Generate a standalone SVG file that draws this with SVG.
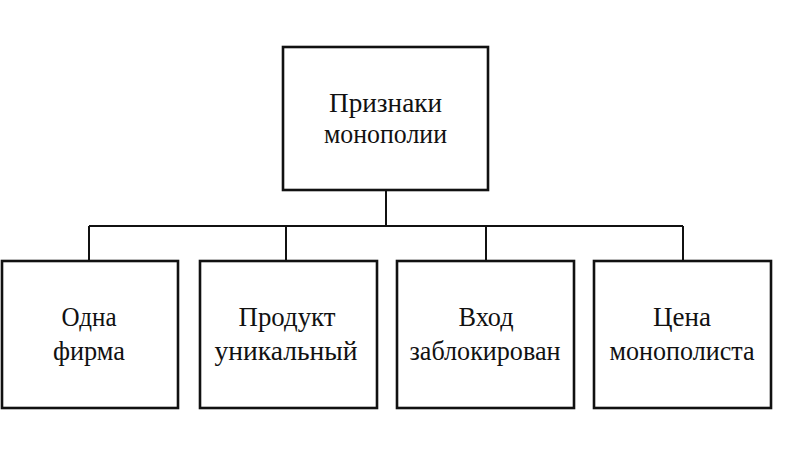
<svg xmlns="http://www.w3.org/2000/svg" width="800" height="450" viewBox="0 0 800 450">
<style>
.box{fill:#fff;stroke:#111;stroke-width:2.6}
.ln{fill:none;stroke:#111;stroke-width:2}
text{font-family:"Liberation Serif","DejaVu Serif",serif;font-size:27px;fill:#111;text-anchor:middle}
</style>
<rect width="800" height="450" fill="#fff"/>
<g id="connectors">
<path class="ln" d="M386 190V226M89 226H683M89 226V261M286 226V261M486 226V261M683 226V261"/>
</g>
<g id="root">
<rect class="box" x="283" y="47" width="205" height="143"/>
<text x="385.5" y="112" textLength="113" lengthAdjust="spacingAndGlyphs">Признаки</text>
<text x="385.5" y="143" textLength="123" lengthAdjust="spacingAndGlyphs">монополии</text>
</g>
<g id="n1">
<rect class="box" x="2" y="261" width="176" height="147"/>
<text x="89" y="326" textLength="55" lengthAdjust="spacingAndGlyphs">Одна</text>
<text x="89" y="360" textLength="72" lengthAdjust="spacingAndGlyphs">фирма</text>
</g>
<g id="n2">
<rect class="box" x="200" y="261" width="177" height="147"/>
<text x="287" y="326" textLength="97" lengthAdjust="spacingAndGlyphs">Продукт</text>
<text x="286" y="360" textLength="143" lengthAdjust="spacingAndGlyphs">уникальный</text>
</g>
<g id="n3">
<rect class="box" x="397" y="261" width="177" height="147"/>
<text x="486" y="326" textLength="55" lengthAdjust="spacingAndGlyphs">Вход</text>
<text x="485" y="360" textLength="151" lengthAdjust="spacingAndGlyphs">заблокирован</text>
</g>
<g id="n4">
<rect class="box" x="594" y="261" width="177" height="147"/>
<text x="682" y="326" textLength="58" lengthAdjust="spacingAndGlyphs">Цена</text>
<text x="682" y="360" textLength="145" lengthAdjust="spacingAndGlyphs">монополиста</text>
</g>
</svg>
